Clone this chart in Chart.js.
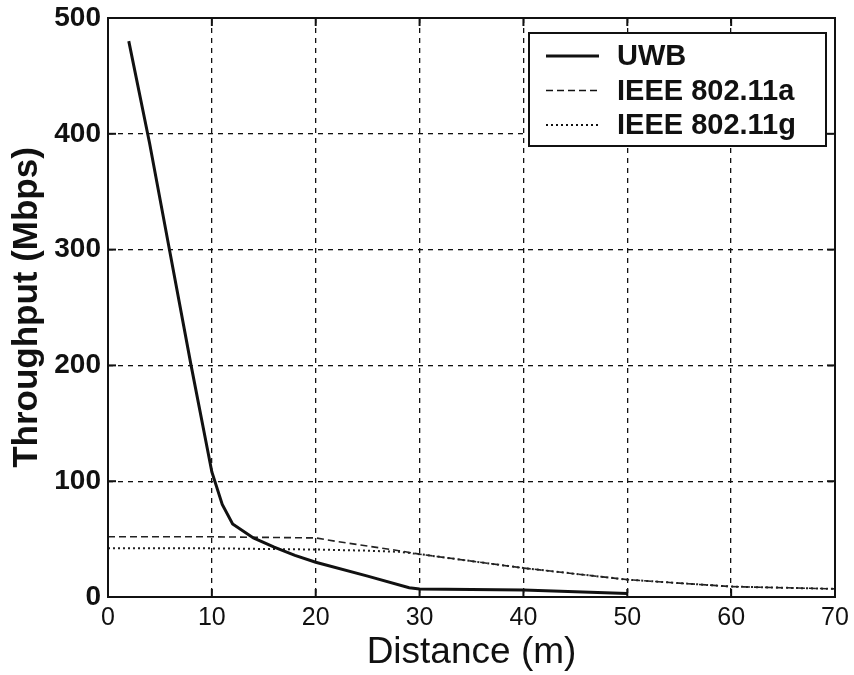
<!DOCTYPE html>
<html>
<head>
<meta charset="utf-8">
<script src="https://cdn.jsdelivr.net/npm/chart.js@4.4.0/dist/chart.umd.min.js"></script>
<style>
  html, body { margin: 0; padding: 0; background: #fff; }
  #wrap { width: 854px; height: 675px; }
</style>
</head>
<body>
<div id="wrap"><canvas id="chart" width="854" height="675"></canvas></div>
<script>
// Données (débit en Mbps selon la distance en m)
const uwbX = [2, 4, 6, 8, 10, 11, 12, 14, 16, 18, 20, 25, 29, 30, 40, 50];
const uwbY = [480, 392, 296, 200, 108, 80, 63, 51, 43, 36, 30, 18, 8, 7, 6, 3];

const wifiAX = [0, 10, 20, 22, 25, 28, 30, 35, 40, 45, 50, 55, 60, 65, 70];
const wifiAY = [52, 52, 51, 48, 44, 40, 37, 31, 25, 20, 15, 12, 9, 8, 7];

const wifiGX = [0, 10, 20, 25, 28, 30, 35, 40, 45, 50, 55, 60, 65, 70];
const wifiGY = [42, 42, 41, 40, 39, 37, 31, 25, 20, 15, 12, 9, 8, 7];

const xTicks = [0, 10, 20, 30, 40, 50, 60, 70];
const yTicks = [0, 100, 200, 300, 400, 500];

const seriesNames = ['UWB', 'IEEE 802.11a', 'IEEE 802.11g'];

const toPoints = (xs, ys) => xs.map((x, i) => ({ x: x, y: ys[i] }));

// cadre complet autour de la zone de tracé + petites graduations
const framePlugin = {
    id: 'frame',
    afterDatasetsDraw(chart) {
        const { ctx, chartArea: a } = chart;
        ctx.save();
        ctx.strokeStyle = '#111';
        ctx.lineWidth = 2;
        ctx.setLineDash([]);
        ctx.strokeRect(a.left, a.top, a.right - a.left, a.bottom - a.top);
        chart.scales.x.ticks.forEach(t => {
            const px = chart.scales.x.getPixelForValue(t.value);
            ctx.beginPath(); ctx.moveTo(px, a.bottom); ctx.lineTo(px, a.bottom - 8); ctx.stroke();
            ctx.beginPath(); ctx.moveTo(px, a.top); ctx.lineTo(px, a.top + 8); ctx.stroke();
        });
        chart.scales.y.ticks.forEach(t => {
            const py = chart.scales.y.getPixelForValue(t.value);
            ctx.beginPath(); ctx.moveTo(a.left, py); ctx.lineTo(a.left + 8, py); ctx.stroke();
            ctx.beginPath(); ctx.moveTo(a.right, py); ctx.lineTo(a.right - 8, py); ctx.stroke();
        });
        ctx.restore();
    }
};

// légende encadrée dans le coin haut droit, comme sur la figure
const boxLegendPlugin = {
    id: 'boxLegend',
    afterDraw(chart) {
        const { ctx, chartArea: a } = chart;
        const boxW = 297, boxH = 113;
        const bx = a.right - boxW - 9, by = a.top + 15;
        ctx.save();
        ctx.fillStyle = '#fff';
        ctx.fillRect(bx, by, boxW, boxH);
        ctx.strokeStyle = '#111';
        ctx.lineWidth = 2;
        ctx.setLineDash([]);
        ctx.strokeRect(bx, by, boxW, boxH);
        ctx.font = 'bold 29px "Liberation Sans", Arial, sans-serif';
        ctx.textBaseline = 'middle';
        ctx.fillStyle = '#111';
        chart.data.datasets.forEach((ds, i) => {
            const y = by + 23 + i * 34.5;
            ctx.beginPath();
            ctx.strokeStyle = '#111';
            ctx.lineWidth = ds.borderWidth;
            ctx.setLineDash(ds.borderDash || []);
            ctx.moveTo(bx + 17, y);
            ctx.lineTo(bx + 70, y);
            ctx.stroke();
            ctx.setLineDash([]);
            ctx.fillText(ds.label, bx + 88, y + 1);
        });
        ctx.restore();
    }
};

const ctx = document.getElementById('chart').getContext('2d');
new Chart(ctx, {
    type: 'scatter',
    data: {
        datasets: [
            {
                label: seriesNames[0],
                data: toPoints(uwbX, uwbY),
                showLine: true,
                borderColor: '#111',
                borderWidth: 3,
                pointRadius: 0,
                tension: 0
            },
            {
                label: seriesNames[1],
                data: toPoints(wifiAX, wifiAY),
                showLine: true,
                borderColor: '#222',
                borderWidth: 1.6,
                borderDash: [7, 4],
                pointRadius: 0,
                tension: 0
            },
            {
                label: seriesNames[2],
                data: toPoints(wifiGX, wifiGY),
                showLine: true,
                borderColor: '#222',
                borderWidth: 2,
                borderDash: [2, 3],
                pointRadius: 0,
                tension: 0
            }
        ]
    },
    options: {
        responsive: false,
        animation: false,
        layout: { padding: { top: 18, right: 19, left: 0, bottom: 0 } },
        plugins: {
            legend: { display: false },
            tooltip: { enabled: false }
        },
        scales: {
            x: {
                type: 'linear',
                min: 0,
                max: 70,
                afterBuildTicks: axis => { axis.ticks = xTicks.map(v => ({ value: v })); },
                afterFit: axis => {
                    axis.height = 78;
                    axis.paddingLeft = 0;
                    axis.paddingRight = 0;
                },
                ticks: {
                    color: '#111',
                    padding: 6,
                    maxRotation: 0,
                    font: { family: '"Liberation Sans", Arial', size: 25 }
                },
                grid: {
                    color: '#111',
                    lineWidth: 1.3,
                    drawTicks: false,
                    tickLength: 0
                },
                border: { display: false, dash: [5, 5] },
                title: {
                    display: true,
                    text: 'Distance (m)',
                    color: '#111',
                    padding: { top: 0, bottom: 0 },
                    font: { family: '"Liberation Sans", Arial', size: 37 }
                }
            },
            y: {
                type: 'linear',
                min: 0,
                max: 500,
                afterBuildTicks: axis => { axis.ticks = yTicks.map(v => ({ value: v })); },
                afterFit: axis => {
                    axis.width = 108;
                    axis.paddingTop = 0;
                    axis.paddingBottom = 0;
                },
                ticks: {
                    color: '#111',
                    padding: 7,
                    font: { family: '"Liberation Sans", Arial', size: 28, weight: 'bold' }
                },
                grid: {
                    color: '#111',
                    lineWidth: 1.3,
                    drawTicks: false,
                    tickLength: 0
                },
                border: { display: false, dash: [5, 5] },
                title: {
                    display: true,
                    text: 'Throughput (Mbps)',
                    color: '#111',
                    padding: { top: 10, bottom: 0 },
                    font: { family: '"Liberation Sans", Arial', size: 35, weight: 'bold', lineHeight: 1 }
                }
            }
        }
    },
    plugins: [framePlugin, boxLegendPlugin]
});
</script>
</body>
</html>
